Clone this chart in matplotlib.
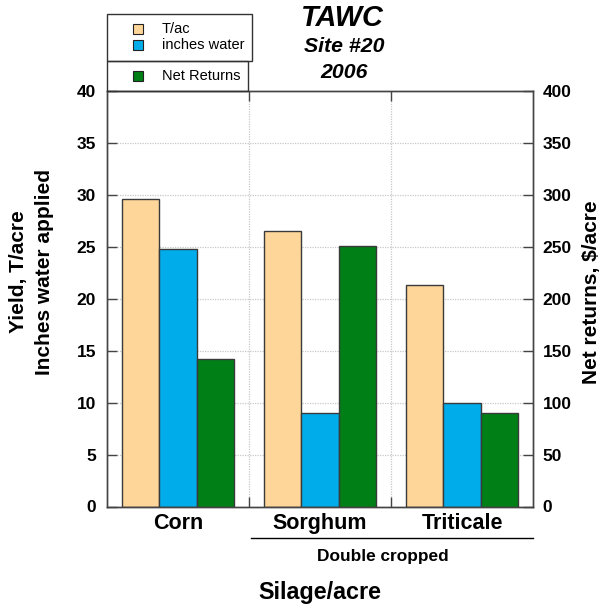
import matplotlib
matplotlib.use("Agg")
import matplotlib.pyplot as plt
from matplotlib.patches import Rectangle
from matplotlib.lines import Line2D

plt.rcParams['font.family'] = ['Liberation Sans', 'DejaVu Sans']

categories = ["Corn", "Sorghum", "Triticale"]
yield_tons = [29.6, 26.5, 21.3]
water_inches = [24.8, 9.0, 10.0]
net_returns = [142, 251, 90]

yield_ticks = [0, 5, 10, 15, 20, 25, 30, 35, 40]
return_ticks = [0, 50, 100, 150, 200, 250, 300, 350, 400]

c_yield = '#FFD699'
c_water = '#00ADEA'
c_net = '#007F16'
edge = '#3a3a3a'

W, H = 600, 606
fig = plt.figure(figsize=(W / 100, H / 100), dpi=100)


def fx(px):
    return px / W


def fy(py):
    return 1 - py / H


left, right, top, bottom = 107, 533, 91, 506.5
ax = fig.add_axes([fx(left), fy(bottom), fx(right) - fx(left), fy(top) - fy(bottom)])
ax2 = ax.twinx()

x = list(range(len(categories)))
bw = 0.265

ax.set_xlim(-0.5, 2.5)
ax.set_ylim(0, 40)
ax2.set_ylim(0, 400)

# dotted grid
for yv in yield_ticks[1:-1]:
    ax.axhline(yv, color='#c8c8c8', lw=0.9, ls=(0, (1, 1)), zorder=0)
for xv in (0.5, 1.5):
    ax.axvline(xv, color='#c8c8c8', lw=0.9, ls=(0, (1, 1)), zorder=0)

ax.bar([i - bw for i in x], yield_tons, width=bw, color=c_yield, edgecolor=edge, lw=1.0, zorder=2)
ax.bar(x, water_inches, width=bw, color=c_water, edgecolor=edge, lw=1.0, zorder=2)
ax2.bar([i + bw for i in x], net_returns, width=bw, color=c_net, edgecolor=edge, lw=1.0, zorder=2)

ax.set_yticks(yield_ticks)
ax2.set_yticks(return_ticks)
ax.set_xticks([0.5, 1.5])
ax.set_xticklabels([])
tick_kw = dict(direction='in', length=7, width=1, color='#444444', labelsize=12.5)
ax.tick_params(axis='y', left=True, right=False, pad=8, **tick_kw)
ax2.tick_params(axis='y', left=False, right=True, pad=7, **tick_kw)
ax.tick_params(axis='x', bottom=True, top=True, direction='in', length=7, width=1, color='#444444')
for lab in ax.get_yticklabels() + ax2.get_yticklabels():
    lab.set_fontweight('bold')

for a in (ax, ax2):
    for s in a.spines.values():
        s.set_color('#444444')
        s.set_linewidth(1.0)

# category labels
for i, name in enumerate(categories):
    ax.text(i, -0.042, name, transform=ax.get_xaxis_transform(), ha='center', va='center',
            fontsize=15.5, fontweight='bold')

# bracket under the double-cropped crops
fig.add_artist(Line2D([fx(251), fx(533)], [fy(538), fy(538)], color='black', lw=1.0))
fig.text(fx(383), fy(557), "Double cropped", ha='center', va='center', fontsize=12.4, fontweight='bold')

fig.text(fx(320), fy(592), "Silage/acre", ha='center', va='center', fontsize=16.8, fontweight='bold')

fig.text(fx(19), fy(272), "Yield, T/acre", rotation=90, ha='center', va='center', fontsize=15, fontweight='bold')
fig.text(fx(45), fy(272), "Inches water applied", rotation=90, ha='center', va='center', fontsize=15, fontweight='bold')
fig.text(fx(591), fy(292), "Net returns, $/acre", rotation=90, ha='center', va='center', fontsize=15, fontweight='bold')

# title
fig.text(fx(342), fy(18), "TAWC", ha='center', va='center', fontsize=20.8, fontweight='bold', style='italic')
fig.text(fx(344), fy(47), "Site #20", ha='center', va='center', fontsize=15.3, fontweight='bold', style='italic')
fig.text(fx(344), fy(73), "2006", ha='center', va='center', fontsize=15.3, fontweight='bold', style='italic')

# legend boxes
fig.add_artist(Rectangle((fx(107), fy(61)), fx(252) - fx(107), fy(14) - fy(61),
                         transform=fig.transFigure, fill=False, ec='#333333', lw=1.0))
fig.add_artist(Rectangle((fx(107), fy(91)), fx(248) - fx(107), fy(61) - fy(91),
                         transform=fig.transFigure, fill=False, ec='#333333', lw=1.0))

legend_items = [("T/ac", c_yield, 29), ("inches water", c_water, 45), ("Net Returns", c_net, 76)]
for label, col, py in legend_items:
    fig.add_artist(Rectangle((fx(133), fy(py + 5)), fx(10), fy(0) - fy(10),
                             transform=fig.transFigure, fc=col, ec='#222222', lw=0.8))
    fig.text(fx(162), fy(py), label, ha='left', va='center', fontsize=10.5)

fig.savefig("out.png", dpi=100)
